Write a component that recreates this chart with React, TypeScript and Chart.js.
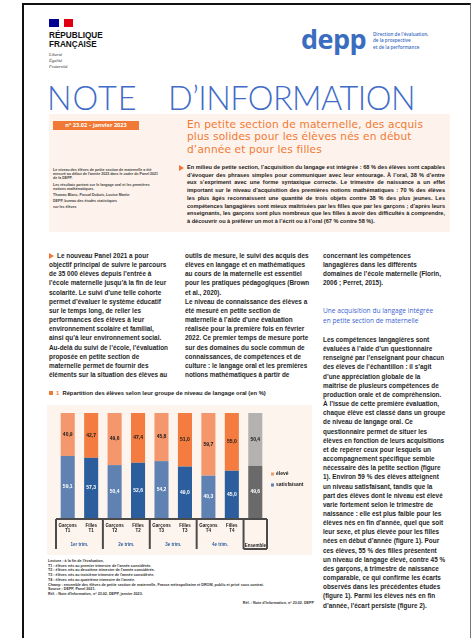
import React, { useEffect, useRef } from "react";
import { Chart, registerables } from "chart.js";

Chart.register(...registerables);

// ---------- chart data ----------
const barLabels: string[][] = [
  ["Garçons", "T1"], ["Filles", "T1"],
  ["Garçons", "T2"], ["Filles", "T2"],
  ["Garçons", "T3"], ["Filles", "T3"],
  ["Garçons", "T4"], ["Filles", "T4"],
  ["", ""],
];
const groupLabels = ["1er trim.", "2e trim.", "3e trim.", "4e trim."];
const ensembleLabel = "Ensemble";
const legendLabels = ["élevé", "satisfaisant"];
const valuesSatisfaisant = [59.1, 57.3, 50.4, 52.6, 54.2, 49.0, 40.3, 45.0, 49.6];
const valuesEleve = [40.9, 42.7, 49.6, 47.4, 45.8, 51.0, 59.7, 55.0, 50.4];

const LIGHT_BLUE = "#5f82b3";
const DARK_BLUE = "#2c5e9e";
const LIGHT_ORANGE = "#f5976c";
const DARK_ORANGE = "#f47c40";
const GRAY_DARK = "#6a6a6a";
const GRAY_LIGHT = "#b5b1b0";
const PEACH = "#fdf4ee";

const bottomColors = [LIGHT_BLUE, DARK_BLUE, LIGHT_BLUE, DARK_BLUE, LIGHT_BLUE, DARK_BLUE, LIGHT_BLUE, DARK_BLUE, GRAY_DARK];
const topColors = [LIGHT_ORANGE, DARK_ORANGE, LIGHT_ORANGE, DARK_ORANGE, LIGHT_ORANGE, DARK_ORANGE, LIGHT_ORANGE, DARK_ORANGE, GRAY_LIGHT];

const fmt = (v: number) => v.toFixed(1).replace(".", ",");

const decorPlugin = {
  id: "decor",
  beforeDraw(chart: any) {
    const { ctx, width, height } = chart;
    ctx.save();
    ctx.fillStyle = PEACH;
    ctx.fillRect(0, 0, width, height);
    ctx.restore();
  },
  afterDatasetsDraw(chart: any) {
    const { ctx } = chart;
    ctx.save();
    ctx.font = "bold 5px 'Liberation Sans', Arial, sans-serif";
    ctx.textAlign = "center";
    ctx.textBaseline = "middle";
    chart.data.datasets.forEach((ds: any, di: number) => {
      const meta = chart.getDatasetMeta(di);
      meta.data.forEach((el: any, i: number) => {
        const mid = (el.y + el.base) / 2;
        ctx.fillStyle = di === 0 ? "#ffffff" : "#1a1a1a";
        ctx.fillText(fmt(ds.data[i]), el.x, mid);
      });
    });
    ctx.restore();
  },
  afterDraw(chart: any) {
    const { ctx, chartArea } = chart;
    const xs = chart.scales.x;
    const n = barLabels.length;
    const w = (xs.right - xs.left) / n;
    const edge = (k: number) => xs.left + k * w;
    const b = chartArea.bottom + 1;
    const h = 30;
    ctx.save();
    ctx.strokeStyle = "#4b4b4b";
    ctx.lineWidth = 2;
    ctx.beginPath();
    ctx.moveTo(edge(0), b);
    ctx.lineTo(edge(n), b);
    [0, 2, 4, 6, 8, 9].forEach((k) => {
      ctx.moveTo(edge(k), b);
      ctx.lineTo(edge(k), b + h);
    });
    ctx.moveTo(edge(8), b + h);
    ctx.lineTo(edge(9), b + h);
    ctx.stroke();

    ctx.fillStyle = "#1a1a1a";
    ctx.textAlign = "center";
    ctx.textBaseline = "middle";
    ctx.font = "bold 4.5px 'Liberation Sans', Arial, sans-serif";
    barLabels.forEach((lbl, i) => {
      const x = xs.getPixelForValue(i);
      ctx.fillText(lbl[0], x, b + 7);
      ctx.fillText(lbl[1], x, b + 12);
    });
    ctx.fillStyle = "#2c5e9e";
    groupLabels.forEach((g, gi) => {
      ctx.fillText(g, (edge(gi * 2) + edge(gi * 2 + 2)) / 2, b + 26);
    });
    ctx.fillStyle = "#1a1a1a";
    ctx.fillText(ensembleLabel, (edge(8) + edge(9)) / 2, b + 27);

    // legend
    const lx = edge(n) + 4;
    const ly = chartArea.top + 61;
    const legendColors = [LIGHT_ORANGE, LIGHT_BLUE];
    ctx.textAlign = "left";
    ctx.font = "bold 5px 'Liberation Sans', Arial, sans-serif";
    legendLabels.forEach((l, i) => {
      ctx.fillStyle = legendColors[i];
      ctx.fillRect(lx, ly + i * 11 - 1.5, 3, 3);
      ctx.fillStyle = "#1a1a1a";
      ctx.fillText(l, lx + 5, ly + i * 11);
    });
    ctx.restore();
  },
};

function BarChart() {
  const ref = useRef<HTMLCanvasElement>(null);
  useEffect(() => {
    if (!ref.current) return;
    const chart = new Chart(ref.current, {
      type: "bar",
      data: {
        labels: barLabels.map((l) => l.join(" ")),
        datasets: [
          { label: legendLabels[1], data: valuesSatisfaisant, backgroundColor: bottomColors, borderWidth: 0 },
          { label: legendLabels[0], data: valuesEleve, backgroundColor: topColors, borderWidth: 0 },
        ],
      },
      options: {
        responsive: false,
        animation: false,
        devicePixelRatio: 1,
        layout: { padding: { left: 9, right: 45, top: 8, bottom: 37 } },
        datasets: { bar: { barPercentage: 0.6, categoryPercentage: 1 } },
        scales: {
          x: { stacked: true, display: false },
          y: { stacked: true, display: false, min: 0, max: 100 },
        },
        plugins: { legend: { display: false }, tooltip: { enabled: false } },
      },
      plugins: [decorPlugin],
    } as any);
    return () => chart.destroy();
  }, []);
  return (
    <canvas
      ref={ref}
      width={265}
      height={150}
      style={{ position: "absolute", left: 47, top: 405, width: 265, height: 150 }}
    />
  );
}

const BODY_FONT = "'Liberation Sans Narrow', 'Liberation Sans', Arial, sans-serif";
const SANS = "'Open Sans', 'Noto Sans', sans-serif";

const abs = (left: number, top: number, extra: React.CSSProperties = {}): React.CSSProperties => ({
  position: "absolute",
  left,
  top,
  ...extra,
});

const bodyText: React.CSSProperties = {
  fontFamily: BODY_FONT,
  fontSize: 6.4,
  lineHeight: "9.15px",
  color: "#1f1f1f",
  fontWeight: 700,
  margin: 0,
};

export default function App() {
  return (
    <div style={{ position: "relative", width: 473, height: 638, background: "#fff", overflow: "hidden" }}>
      <style>{"body{margin:0;background:#fff}"}</style>
      {/* page frame */}
      <div style={abs(22, 3, { width: 446, height: 660, borderLeft: "2px solid #111", borderTop: "2px solid #111", borderRight: "1px solid #777" })} />

      {/* Marianne */}
      <div style={abs(49, 19, { width: 10, height: 8, background: "#000091" })} />
      <div style={abs(59, 19, { width: 5, height: 8, background: "#fff" })} />
      <div style={abs(64, 19, { width: 9, height: 8, background: "#e1000f" })} />
      <div style={abs(49, 31, { fontFamily: "'Liberation Sans', Arial, sans-serif", fontWeight: 700, fontSize: 8.2, lineHeight: "9.3px", color: "#111" })}>
        RÉPUBLIQUE<br />FRANÇAISE
      </div>
      <div style={abs(49, 52, { fontFamily: "'Liberation Serif', serif", fontStyle: "italic", fontSize: 4.5, lineHeight: "6px", color: "#333" })}>
        Liberté<br />Égalité<br />Fraternité
      </div>

      {/* depp */}
      <div style={abs(301, 24, { fontFamily: SANS, fontWeight: 700, fontSize: 27, lineHeight: "30px", color: "#3a6cc0", letterSpacing: -0.5 })}>depp</div>
      <div style={abs(373, 31, { fontFamily: SANS, fontSize: 4.6, lineHeight: "6.4px", color: "#3a6cc0", fontWeight: 600 })}>
        Direction de l'évaluation,<br />de la prospective<br />et de la performance
      </div>

      {/* title */}
      <div style={abs(47, 83, { fontFamily: "Lato, 'Open Sans', sans-serif", fontWeight: 300, fontSize: 32.5, lineHeight: "30px", color: "#3f6cc7", whiteSpace: "nowrap", letterSpacing: 1 })}>
        NOTE
      </div>
      <div style={abs(168, 83, { fontFamily: "Lato, 'Open Sans', sans-serif", fontWeight: 300, fontSize: 32.5, lineHeight: "30px", color: "#3f6cc7", whiteSpace: "nowrap", letterSpacing: -0.55 })}>
        D’INFORMATION
      </div>

      {/* peach header box */}
      <div style={abs(49, 114, { width: 401, height: 118, background: "#fdf3ec" })} />
      <div style={abs(53, 121, { width: 86, height: 9, background: "#f07a35", color: "#fff", fontFamily: SANS, fontWeight: 700, fontSize: 5.6, lineHeight: "9px", textAlign: "center", whiteSpace: "nowrap" })}>
        n° 23.02 – janvier 2023
      </div>
      <div style={abs(187, 118, { width: 262, fontFamily: "'DejaVu Sans', sans-serif", fontSize: 10.6, lineHeight: "12.35px", color: "#f07a35", whiteSpace: "nowrap", letterSpacing: 0.15 })}>
        En petite section de maternelle, des acquis<br />plus solides pour les élèves nés en début<br />d’année et pour les filles
      </div>

      {/* left info block */}
      <div style={abs(53, 168, { width: 108, fontFamily: BODY_FONT, fontSize: 3.6, lineHeight: "4.2px", color: "#444", fontWeight: 700 })}>
        <div>Le niveau des élèves de petite section de maternelle a été mesuré au début de l'année 2022 dans le cadre du Panel 2021 de la DEPP.</div>
        <div style={{ marginTop: 2 }}>Les résultats portent sur le langage oral et les premières notions mathématiques.</div>
        <div style={{ marginTop: 2 }}>Thomas Blanc, Pascal Dubois, Louise Martin</div>
        <div style={{ marginTop: 2 }}>DEPP, bureau des études statistiques</div>
        <div style={{ marginTop: 2 }}>sur les élèves</div>
      </div>

      {/* summary */}
      <div style={abs(179, 165, { width: 0, height: 0, borderTop: "3px solid transparent", borderBottom: "3px solid transparent", borderLeft: "5px solid #f07a35" })} />
      <div style={abs(187, 164, { width: 258, fontFamily: BODY_FONT, fontSize: 5.6, lineHeight: "7.7px", color: "#1a1a1a", fontWeight: 700, textAlign: "justify" })}>
        En milieu de petite section, l’acquisition du langage est intégrée : 68 % des élèves sont capables d’évoquer des phrases simples pour communiquer avec leur entourage. À l’oral, 38 % d’entre eux s’expriment avec une forme syntaxique correcte. Le trimestre de naissance a un effet important sur le niveau d’acquisition des premières notions mathématiques : 70 % des élèves les plus âgés reconnaissent une quantité de trois objets contre 38 % des plus jeunes. Les compétences langagières sont mieux maîtrisées par les filles que par les garçons ; d’après leurs enseignants, les garçons sont plus nombreux que les filles à avoir des difficultés à comprendre, à découvrir ou à préférer un mot à l’écrit ou à l’oral (67 % contre 58 %).
      </div>

      {/* column 1 */}
      <div style={abs(49, 253, { width: 0, height: 0, borderTop: "3px solid transparent", borderBottom: "3px solid transparent", borderLeft: "5px solid #f07a35" })} />
      <div style={abs(49, 251, { ...bodyText, width: 120, textIndent: 8 })}>
        Le nouveau Panel 2021 a pour objectif principal de suivre le parcours de 35 000 élèves depuis l’entrée à l’école maternelle jusqu’à la fin de leur scolarité. Le suivi d’une telle cohorte permet d’évaluer le système éducatif sur le temps long, de relier les performances des élèves à leur environnement scolaire et familial, ainsi qu’à leur environnement social. Au-delà du suivi de l’école, l’évaluation proposée en petite section de maternelle permet de fournir des éléments sur la situation des élèves au
      </div>

      {/* column 2 */}
      <div style={abs(185, 251, { ...bodyText, width: 128 })}>
        <div>outils de mesure, le suivi des acquis des élèves en langage et en mathématiques au cours de la maternelle est essentiel pour les pratiques pédagogiques (Brown et al., 2020).</div>
        <div>Le niveau de connaissance des élèves a été mesuré en petite section de maternelle à l’aide d’une évaluation réalisée pour la première fois en février 2022. Ce premier temps de mesure porte sur des domaines du socle commun de connaissances, de compétences et de culture : le langage oral et les premières notions mathématiques à partir de</div>
      </div>

      {/* column 3 */}
      <div style={abs(323, 251, { ...bodyText, width: 123 })}>
        concernant les compétences langagières dans les différents domaines de l’école maternelle (Florin, 2006 ; Perret, 2015).
      </div>
      <div style={abs(323, 306, { width: 123, fontFamily: SANS, fontSize: 6.6, lineHeight: "10px", color: "#3a5fcf", fontWeight: 500 })}>
        Une acquisition du langage intégrée<br />en petite section de maternelle
      </div>
      <div style={abs(323, 335, { ...bodyText, width: 123 })}>
        Les compétences langagières sont évaluées à l’aide d’un questionnaire renseigné par l’enseignant pour chacun des élèves de l’échantillon : il s’agit d’une appréciation globale de la maîtrise de plusieurs compétences de production orale et de compréhension. À l’issue de cette première évaluation, chaque élève est classé dans un groupe de niveau de langage oral. Ce questionnaire permet de situer les élèves en fonction de leurs acquisitions et de repérer ceux pour lesquels un accompagnement spécifique semble nécessaire dès la petite section (figure 1). Environ 59 % des élèves atteignent un niveau satisfaisant, tandis que la part des élèves dont le niveau est élevé varie fortement selon le trimestre de naissance : elle est plus faible pour les élèves nés en fin d’année, quel que soit leur sexe, et plus élevée pour les filles nées en début d’année (figure 1). Pour ces élèves, 55 % des filles présentent un niveau de langage élevé, contre 45 % des garçons, à trimestre de naissance comparable, ce qui confirme les écarts observés dans les précédentes études (figure 1). Parmi les élèves nés en fin d’année, l’écart persiste (figure 2).
      </div>

      {/* figure title */}
      <div style={abs(49, 391, { width: 4, height: 4, background: "#f07a35" })} />
      <div style={abs(56, 389, { fontFamily: BODY_FONT, fontSize: 5.8, lineHeight: "8px", color: "#1a1a1a", fontWeight: 700, whiteSpace: "nowrap" })}>
        <span style={{ color: "#f07a35" }}>1</span>&nbsp;&nbsp;Répartition des élèves selon leur groupe de niveau de langage oral (en %)
      </div>

      <BarChart />

      {/* notes */}
      <div style={abs(48, 559, { width: 225, fontFamily: BODY_FONT, fontSize: 3.7, lineHeight: "4.7px", color: "#333", fontWeight: 700, whiteSpace: "nowrap" })}>
        <div>Lecture : à la fin de l'évaluation,</div>
        <div>T1 : élèves nés au premier trimestre de l'année considérée.</div>
        <div>T2 : élèves nés au deuxième trimestre de l'année considérée.</div>
        <div>T3 : élèves nés au troisième trimestre de l'année considérée.</div>
        <div>T4 : élèves nés au quatrième trimestre de l'année.</div>
        <div>Champ : ensemble des élèves de petite section de maternelle, France métropolitaine et DROM, public et privé sous contrat.</div>
        <div>Source : DEPP, Panel 2021.</div>
        <div>Réf. : Note d'Information, n° 23.02, DEPP, janvier 2023.</div>
      </div>
      <div style={abs(232, 601, { width: 82, fontFamily: BODY_FONT, fontSize: 3.7, lineHeight: "4.7px", color: "#333", fontWeight: 700, whiteSpace: "nowrap", textAlign: "right" })}>
        Réf. : Note d’Information, n° 23.02. DEPP
      </div>
    </div>
  );
}
